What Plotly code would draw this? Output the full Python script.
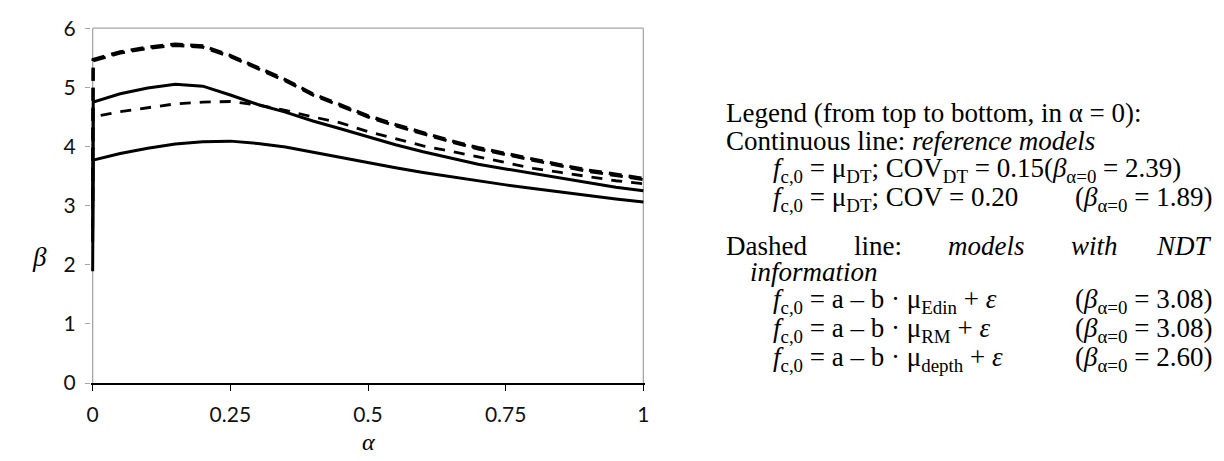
import plotly.graph_objects as go

# ---- data ----
alpha = [0, 0.001, 0.05, 0.1, 0.15, 0.2, 0.25, 0.3, 0.35, 0.4, 0.45, 0.5,
         0.55, 0.6, 0.65, 0.7, 0.75, 0.8, 0.85, 0.9, 0.95, 1.0]

beta_cov015 = [2.39, 4.75, 4.89, 4.99, 5.05, 5.02, 4.87, 4.71, 4.58, 4.43, 4.30, 4.16,
               4.03, 3.91, 3.81, 3.70, 3.62, 3.54, 3.46, 3.38, 3.31, 3.25]
beta_cov020 = [1.89, 3.77, 3.88, 3.97, 4.04, 4.08, 4.09, 4.05, 3.99, 3.90, 3.82, 3.72,
               3.64, 3.56, 3.49, 3.41, 3.35, 3.29, 3.23, 3.16, 3.11, 3.06]
beta_edin = [3.08, 5.47, 5.60, 5.68, 5.73, 5.70, 5.54, 5.34, 5.13, 4.89, 4.70, 4.52,
             4.37, 4.23, 4.10, 3.98, 3.88, 3.79, 3.69, 3.60, 3.53, 3.46]
beta_rm = [3.08, 5.45, 5.58, 5.66, 5.71, 5.68, 5.52, 5.32, 5.11, 4.87, 4.68, 4.50,
           4.35, 4.21, 4.08, 3.96, 3.86, 3.77, 3.67, 3.58, 3.51, 3.44]
beta_depth = [2.60, 4.50, 4.59, 4.66, 4.72, 4.75, 4.76, 4.70, 4.61, 4.50, 4.40, 4.25,
              4.13, 4.01, 3.92, 3.82, 3.72, 3.63, 3.56, 3.49, 3.42, 3.37]

x_ticks = [0, 0.25, 0.5, 0.75, 1]
x_ticklabels = ["0", "0.25", "0.5", "0.75", "1"]
y_ticks = [0, 1, 2, 3, 4, 5, 6]

# ---- geometry (page pixels; the page body has an 8px margin) ----
OFF = 8
FIG_W, FIG_H = 1224, 461
X0_PX, X1_PX = 93 - OFF, 643 - OFF     # alpha = 0 and alpha = 1
Y0_PX, Y6_PX = 383 - OFF, 16 - OFF     # beta = 0 and beta = 6
XPAD = 0.003
unit = X1_PX - X0_PX
plot_left = X0_PX - XPAD * unit
plot_w = unit * (1 + 2 * XPAD)
YTOP = 6.02
plot_h = (Y0_PX - Y6_PX) * YTOP / 6
plot_top = Y0_PX - plot_h


def pp(px, py):
    """page pixel -> paper coordinates"""
    fx, fy = px - OFF, py - OFF
    return (fx - plot_left) / plot_w, (Y0_PX - fy) / plot_h


fig = go.Figure()

series = [
    (beta_cov015, "solid", 3, "COV_DT = 0.15"),
    (beta_cov020, "solid", 3, "COV = 0.20"),
    (beta_edin, "13px,7px", 3.2, "Edin"),
    (beta_rm, "13px,7px", 3.2, "RM"),
    (beta_depth, "11px,9px", 2.8, "depth"),
]
for ys, dash, w, name in series:
    fig.add_trace(go.Scatter(x=alpha, y=ys, mode="lines", name=name,
                             line=dict(color="black", width=w, dash=dash),
                             showlegend=False, hoverinfo="skip"))

grey = "#a6a6a6"
frame = [
    dict(x0=0, x1=0, y0=0, y1=6),
    dict(x0=0, x1=1, y0=6, y1=6),
    dict(x0=1, x1=1, y0=0, y1=6),
]
for f in frame:
    fig.add_shape(type="line", xref="x", yref="y", layer="below",
                  line=dict(color=grey, width=1.3), **f)

tick_font = dict(family="Lato, Open Sans, sans-serif", size=21, color="#111111")

fig.update_layout(
    width=FIG_W, height=FIG_H,
    paper_bgcolor="white", plot_bgcolor="white",
    margin=dict(l=plot_left, r=FIG_W - plot_left - plot_w, t=plot_top,
                b=FIG_H - Y0_PX, pad=0),
    xaxis=dict(range=[-XPAD, 1 + XPAD], tickvals=x_ticks, ticktext=x_ticklabels,
               showgrid=False, zeroline=False, showline=True, linecolor="black",
               linewidth=2, ticks="outside", ticklen=6, tickcolor="black",
               tickwidth=1.3, tickfont=tick_font, ticklabelstandoff=6,
               ticklabeloverflow="allow"),
    yaxis=dict(range=[0, YTOP], tickvals=y_ticks, showgrid=False, zeroline=False,
               showline=False, ticks="outside", ticklen=5, tickcolor=grey,
               tickwidth=1.3, tickfont=tick_font, ticklabelstandoff=5,
               ticklabeloverflow="allow"),
    font=dict(family="Liberation Serif", color="black"),
)

ann = []


def put(px, py, text, size, xanchor="center", family="Liberation Serif"):
    x, y = pp(px, py)
    ann.append(dict(x=x, y=y, text=text, xanchor=xanchor, yanchor="middle",
                    xref="paper", yref="paper", showarrow=False,
                    font=dict(family=family, size=size, color="black")))


# axis titles
put(368, 444, "<i>α</i>", 24)
put(40, 253, "<i>β</i>", 27)

FS = 27
TX0 = 724      # left edge of legend text
TX1 = 1213     # right edge of legend text
IND = 770      # indent of formula lines

put(TX0, 104, "Legend (from top to bottom, in α = 0):", FS, "left")
put(TX0, 133, "Continuous line: <i>reference models</i>", FS, "left")
put(IND, 163, "<i>f</i><sub>c,0</sub> = μ<sub>DT</sub>; COV<sub>DT</sub> = 0.15(<i>β</i><sub>α=0</sub> = 2.39)", FS, "left")
put(IND, 193, "<i>f</i><sub>c,0</sub> = μ<sub>DT</sub>; COV = 0.20", FS, "left")
put(TX1, 193, "(<i>β</i><sub>α=0</sub> = 1.89)", FS, "right")
put(TX0, 241, "Dashed", FS, "left")
put(851, 241, "line:", FS, "left")
put(945, 241, "<i>models</i>", FS, "left")
put(1068, 241, "<i>with</i>", FS, "left")
put(TX1, 241, "<i>NDT</i>", FS, "right")
put(748, 268, "<i>information</i>", FS, "left")
put(IND, 298, "<i>f</i><sub>c,0</sub> = a – b · μ<sub>Edin</sub> + <i>ε</i>", FS, "left")
put(TX1, 298, "(<i>β</i><sub>α=0</sub> = 3.08)", FS, "right")
put(IND, 328, "<i>f</i><sub>c,0</sub> = a – b · μ<sub>RM</sub> + <i>ε</i>", FS, "left")
put(TX1, 328, "(<i>β</i><sub>α=0</sub> = 3.08)", FS, "right")
put(IND, 358, "<i>f</i><sub>c,0</sub> = a – b · μ<sub>depth</sub> + <i>ε</i>", FS, "left")
put(TX1, 358, "(<i>β</i><sub>α=0</sub> = 2.60)", FS, "right")

fig.update_layout(annotations=ann)

fig.write_html("out.html")
